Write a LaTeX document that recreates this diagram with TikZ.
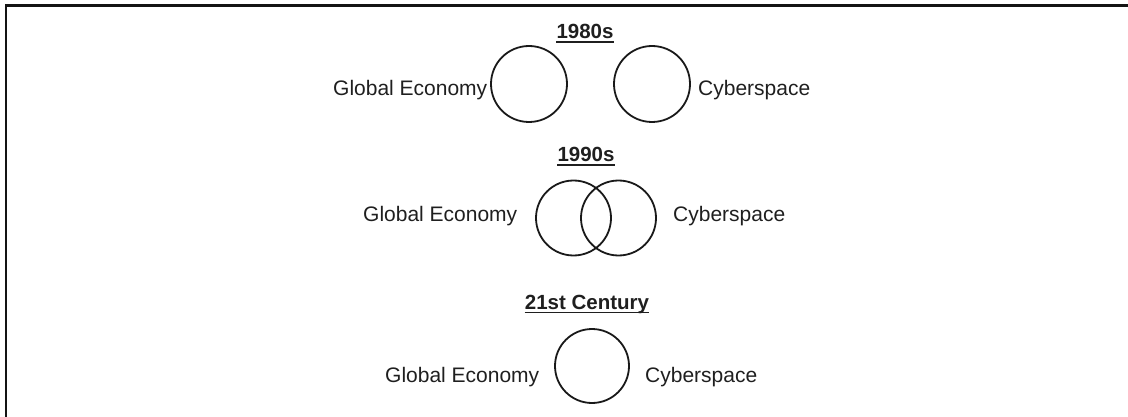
\documentclass[tikz,border=0pt]{standalone}
\usepackage{fontspec}
\setmainfont{Liberation Sans}
\begin{document}
\begin{tikzpicture}[x=1pt,y=-1pt,
  circ/.style={circle,draw=black!90,line width=1.8pt,inner sep=0pt},
  lbl/.style={inner sep=0pt,anchor=base west,text=black!88,font=\fontsize{21}{25}\selectfont},
  ttl/.style={inner sep=0pt,anchor=base,text=black!88,font=\bfseries\fontsize{20.5}{24}\selectfont},
  uline/.style={line width=1.5pt,draw=black!88}]
\useasboundingbox (0,0) rectangle (1128,417);
\draw[line width=2.6pt,black!92] (6,417) -- (6,5.3) -- (1128,5.3);
% 1980s
\node[ttl] (t1) at (585,39) {1980s};
\draw[uline] ([yshift=-3pt]t1.base west) -- ([yshift=-3pt]t1.base east);
\node[circ,minimum size=76pt] (a1) at (529,84) {};
\node[circ,minimum size=76pt] (b1) at (652,84) {};
\node[lbl] (g1) at (333,96) {Global Economy};
\node[lbl] (s1) at (698,96) {Cyberspace};
% 1990s
\node[ttl] (t2) at (586,162) {1990s};
\draw[uline] ([yshift=-3pt]t2.base west) -- ([yshift=-3pt]t2.base east);
\node[circ,minimum size=75pt] (a2) at (573.5,218) {};
\node[circ,minimum size=75pt] (b2) at (618.5,218) {};
\node[lbl] (g2) at (363,222) {Global Economy};
\node[lbl] (s2) at (673,222) {Cyberspace};
% 21st Century
\node[ttl] (t3) at (587,309) {21st Century};
\draw[uline] ([yshift=-3.5pt]t3.base west) -- ([yshift=-3.5pt]t3.base east);
\node[circ,minimum size=74pt] (a3) at (592,366) {};
\node[lbl] (g3) at (385,382) {Global Economy};
\node[lbl] (s3) at (645,382) {Cyberspace};
\end{tikzpicture}
\end{document}
